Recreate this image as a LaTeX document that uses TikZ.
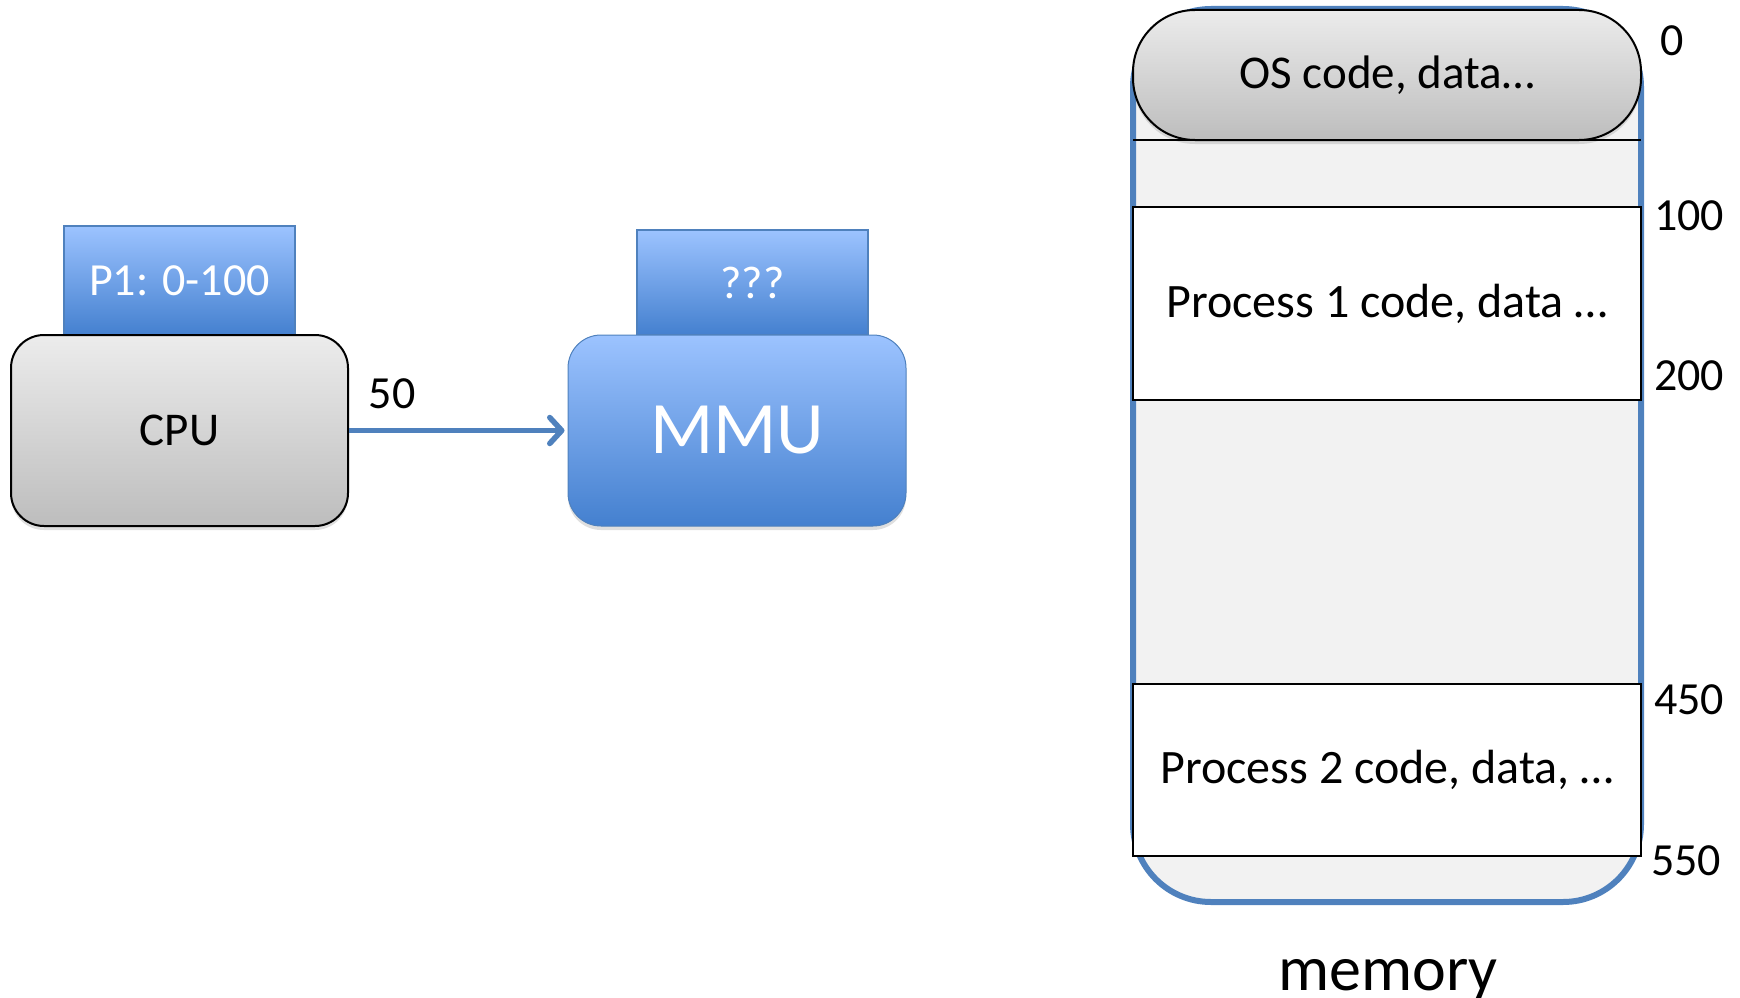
\documentclass[tikz,border=0pt]{standalone}
\usepackage{fontspec}
\setmainfont{Carlito}
\usetikzlibrary{shadows,arrows.meta}
\definecolor{accent}{HTML}{4F81BD}
\definecolor{bluetop}{HTML}{9CC3FF}
\definecolor{bluebot}{HTML}{4480CF}
\definecolor{graytop}{HTML}{ECECEC}
\definecolor{graybot}{HTML}{BDBDBD}
\definecolor{memfill}{HTML}{F2F2F2}
\tikzset{
  lbl/.style={inner sep=0pt, font=\fontsize{46}{50}\selectfont},
  graybox/.style={draw=black, line width=2pt, top color=graytop, bottom color=graybot, rounded corners=33pt,
     drop shadow={shadow xshift=0pt, shadow yshift=-4pt, opacity=0.25}},
  bluebox/.style={draw=accent, line width=1pt, top color=bluetop, bottom color=bluebot, rounded corners=33pt,
     drop shadow={shadow xshift=0pt, shadow yshift=-4pt, opacity=0.25}},
  tab/.style={draw=accent, line width=1.2pt, top color=bluetop, bottom color=bluebot, text=white,
     font=\fontsize{46}{50}\selectfont},
  region/.style={draw=black, line width=1.5pt, fill=white, minimum width=508pt, font=\fontsize{48}{52}\selectfont},
  link/.style={draw=accent, line width=5.5pt, -{Straight Barb[length=12pt,width=26pt,line width=5.5pt,round]}}
}
\begin{document}
\begin{tikzpicture}[x=1pt,y=-1pt]
\useasboundingbox (0,0) rectangle (1740,998);
% CPU side
\node[tab, minimum width=231pt, minimum height=109pt] (p1) at (179.5,280.5) {P1: 0-100};
\node[graybox, minimum width=337pt, minimum height=191pt, font=\fontsize{47}{50}\selectfont] (cpu) at (179.5,430.5) {CPU};
\node[tab, minimum width=231pt, minimum height=105pt] (q) at (752.5,282.5) {???};
\node[bluebox, minimum width=338pt, minimum height=191pt, text=white, font=\fontsize{74}{80}\selectfont] (mmu) at (737,430.5) {MMU};
\draw[link] (cpu.east) -- ([xshift=-3pt]mmu.west);
\node[lbl] (fifty) at (392,394) {50};
% memory
\draw[draw=accent, line width=6pt, fill=memfill, rounded corners=78pt] (1133,9) rectangle (1641,902);
\node[draw=black, line width=2pt, top color=graytop, bottom color=graybot, rounded corners=62pt,
      minimum width=508pt, minimum height=130pt, font=\fontsize{47}{50}\selectfont,
      drop shadow={shadow xshift=0pt, shadow yshift=-4pt, opacity=0.25}] (os) at (1387,75) {OS code, data…};
\coordinate (la) at (1133,140);
\coordinate (lb) at (1641,140);
\draw[line width=1.5pt] (la) -- (lb);
\node[region, minimum height=193pt] (pa) at (1387,303.5) {Process 1 code, data …};
\node[region, minimum height=172pt] (pb) at (1387,770) {Process 2 code, data, …};
\node[lbl] (a0) at (1672,41) {0};
\node[lbl] (a100) at (1689,216) {100};
\node[lbl] (a200) at (1689,376) {200};
\node[lbl] (a450) at (1689,700) {450};
\node[lbl] (a550) at (1686,861) {550};
\node[inner sep=0pt, font=\fontsize{64}{70}\selectfont] (mem) at (1388,980) {memory};
\end{tikzpicture}
\end{document}
